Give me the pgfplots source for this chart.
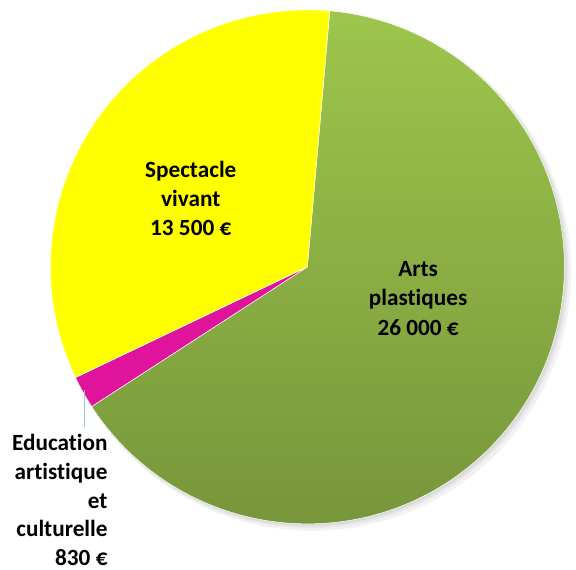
\documentclass[border=0pt]{standalone}
\usepackage{pgfplots}
\pgfplotsset{compat=1.18}
\usepackage{fontspec}
\setmainfont{Carlito}[Ligatures=NoCommon]
\definecolor{arttop}{HTML}{9DC64C}
\definecolor{artbot}{HTML}{76953A}
\definecolor{specyel}{HTML}{FFFF00}
\definecolor{edumag}{HTML}{E0149C}
\definecolor{leader}{HTML}{9DC3E6}
\begin{document}
\begin{tikzpicture}
% values
\def\va{26000}% Arts plastiques
\def\vb{830}% Education artistique et culturelle
\def\vc{13500}% Spectacle vivant
\edef\aS{85}
\edef\aA{\fpeval{\aS-360*\va/(\va+\vb+\vc)}}
\edef\aB{\fpeval{\aA-360*\vb/(\va+\vb+\vc)}}
\edef\aC{\fpeval{\aB-360*\vc/(\va+\vb+\vc)}}
\begin{axis}[scale only axis, width=571pt, height=576pt,
  xmin=0, xmax=571, ymin=0, ymax=576, hide axis, clip=false]
\path (axis cs:0,0) rectangle (axis cs:571,576);
% soft shadow
\fill[black, opacity=0.05] (axis cs:316,301) circle[radius=262pt];
\fill[black, opacity=0.05] (axis cs:314,303) circle[radius=261pt];
\fill[black, opacity=0.05] (axis cs:313,304) circle[radius=260pt];
% slices
\path[top color=arttop, bottom color=artbot, draw=white, line width=0.5pt]
  (axis cs:311,306) -- ++(\aS:260pt) arc[start angle=\aS, end angle=\aA, radius=260pt] -- cycle;
\path[fill=edumag, draw=white, line width=0.5pt]
  (axis cs:311,306) -- ++(\aA:260pt) arc[start angle=\aA, end angle=\aB, radius=260pt] -- cycle;
\path[fill=specyel, draw=white, line width=0.5pt]
  (axis cs:311,306) -- ++(\aB:260pt) arc[start angle=\aB, end angle=\aC, radius=260pt] -- cycle;
% leader
\draw[leader, line width=0.8pt] (axis cs:85,181) -- (axis cs:85,144);
% labels
\node[align=center, font=\bfseries\fontsize{23.5}{29.5}\selectfont] at (axis cs:193,375) {Spectacle\\vivant\\13 500 €};
\node[align=center, font=\bfseries\fontsize{23.5}{29.5}\selectfont] at (axis cs:423,274) {Arts\\plastiques\\26 000 €};
\node[align=right, anchor=east, inner sep=0pt, font=\bfseries\fontsize{23.5}{29}\selectfont] at (axis cs:109,70) {Education\\artistique\\et\\culturelle\\830 €};
\end{axis}
\end{tikzpicture}
\end{document}
